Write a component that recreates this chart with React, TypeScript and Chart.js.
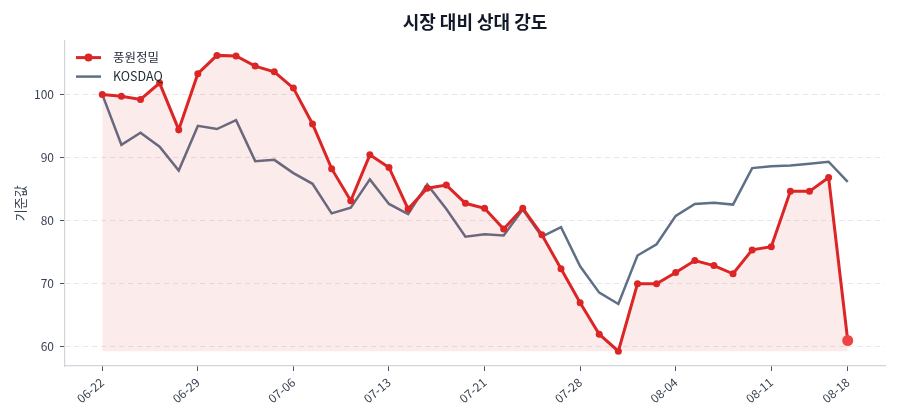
import React, { useEffect, useRef } from 'react';
import Chart from 'chart.js/auto';

const dates = [
  '06-22', '06-23', '06-24', '06-25', '06-26',
  '06-29', '06-30', '07-01', '07-02', '07-03',
  '07-06', '07-07', '07-08', '07-09', '07-10',
  '07-13', '07-14', '07-15', '07-16', '07-17',
  '07-21', '07-22', '07-23', '07-24', '07-27',
  '07-28', '07-29', '07-30', '07-31', '08-03',
  '08-04', '08-05', '08-06', '08-07', '08-10',
  '08-11', '08-12', '08-13', '08-14', '08-18',
];

const stockValues = [
  100.0, 99.7, 99.2, 101.8, 94.4, 103.3, 106.2, 106.1, 104.5, 103.6,
  101.0, 95.3, 88.2, 83.1, 90.4, 88.4, 81.8, 85.1, 85.6, 82.7,
  81.9, 78.6, 81.9, 77.7, 72.3, 66.9, 61.9, 59.2, 69.9, 69.9,
  71.7, 73.6, 72.8, 71.5, 75.3, 75.8, 84.6, 84.6, 86.8, 60.9,
];

const kosdaqValues = [
  100.0, 92.0, 93.9, 91.7, 87.9, 95.0, 94.5, 95.9, 89.4, 89.6,
  87.5, 85.8, 81.1, 82.0, 86.5, 82.6, 81.0, 85.7, 81.8, 77.4,
  77.8, 77.6, 81.7, 77.4, 78.9, 72.7, 68.5, 66.7, 74.4, 76.2,
  80.7, 82.6, 82.8, 82.5, 88.3, 88.6, 88.7, 89.0, 89.3, 86.1,
];

const tickIndexes = [0, 5, 10, 15, 20, 25, 30, 35, 39];

const FONT = '"Noto Sans CJK KR", "Noto Sans", sans-serif';
const RED = '#dc2626';
const SLATE = '#5f6f86';

// legend drawn inside the plot, top-left like the original
const insideLegend = {
  id: 'insideLegend',
  afterDraw(chart: any) {
    const { ctx, chartArea } = chart;
    const x = chartArea.left + 11;
    let y = chartArea.top + 17;
    ctx.save();
    ctx.font = `12.5px ${FONT}`;
    ctx.textBaseline = 'middle';
    chart.data.datasets.forEach((ds: any, i: number) => {
      ctx.strokeStyle = ds.borderColor;
      ctx.lineWidth = ds.borderWidth;
      ctx.beginPath();
      ctx.moveTo(x, y);
      ctx.lineTo(x + 25, y);
      ctx.stroke();
      if (i === 0) {
        ctx.fillStyle = ds.borderColor;
        ctx.beginPath();
        ctx.arc(x + 12.5, y, 4, 0, Math.PI * 2);
        ctx.fill();
      }
      ctx.fillStyle = '#1f2937';
      ctx.fillText(ds.label, x + 37, y);
      y += 19;
    });
    ctx.restore();
  },
};

export default function App() {
  const canvasRef = useRef<HTMLCanvasElement>(null);

  useEffect(() => {
    document.body.style.margin = '0';
    if (!canvasRef.current) return;
    const last = stockValues.length - 1;
    const fillBase = Math.min(...stockValues);

    const chart = new Chart(canvasRef.current, {
      type: 'line',
      data: {
        datasets: [
          {
            label: '풍원정밀',
            data: stockValues.map((v, i) => ({ x: i, y: v })),
            borderColor: RED,
            borderWidth: 3,
            backgroundColor: 'rgba(220, 38, 38, 0.09)',
            fill: { value: fillBase },
            pointRadius: (c: any) => (c.dataIndex === last ? 5.5 : 3.5),
            pointBackgroundColor: (c: any) => (c.dataIndex === last ? '#ef4444' : RED),
            pointBorderWidth: 0,
            tension: 0,
          },
          {
            label: 'KOSDAQ',
            data: kosdaqValues.map((v, i) => ({ x: i, y: v })),
            borderColor: SLATE,
            borderWidth: 2.5,
            pointRadius: 0,
            fill: false,
            tension: 0,
          },
        ],
      },
      options: {
        animation: false,
        responsive: true,
        maintainAspectRatio: false,
        layout: { padding: { left: 0, right: 15, top: 0, bottom: 0 } },
        scales: {
          x: {
            type: 'linear',
            min: -1.95,
            max: 40.95,
            afterBuildTicks: (scale: any) => {
              scale.ticks = tickIndexes.map((v) => ({ value: v }));
            },
            afterFit: (scale: any) => {
              scale.height = 54;
            },
            grid: {
              drawOnChartArea: false,
              tickColor: '#4b5563',
              tickLength: 5,
            },
            border: { color: '#d1d5db', width: 1.2 },
            ticks: {
              autoSkip: false,
              maxRotation: 40,
              minRotation: 40,
              padding: 4,
              color: '#374151',
              font: { family: FONT, size: 12 },
              callback: (value: any) => dates[value] ?? '',
            },
          },
          y: {
            min: 56.85,
            max: 108.55,
            afterFit: (scale: any) => {
              scale.width = 65;
            },
            title: {
              display: true,
              text: '기준값',
              color: '#374151',
              padding: { top: 12, bottom: 4 },
              font: { family: FONT, size: 13 },
            },
            grid: {
              color: '#e5e7eb',
              tickColor: '#4b5563',
              tickLength: 5,
            },
            border: { color: '#d1d5db', width: 1.2, dash: [5, 4] },
            ticks: {
              stepSize: 10,
              includeBounds: false,
              padding: 6,
              color: '#374151',
              font: { family: FONT, size: 12 },
            },
          },
        },
        plugins: {
          legend: { display: false },
          tooltip: { enabled: false },
          title: {
            display: true,
            text: '시장 대비 상대 강도',
            fullSize: false,
            color: '#111827',
            padding: { top: 11, bottom: 8 },
            font: { family: FONT, size: 18, weight: 'bold' },
          },
        },
      } as any,
      plugins: [insideLegend],
    });

    return () => {
      chart.destroy();
    };
  }, []);

  return (
    <div style={{ width: 900, height: 420, position: 'relative' }}>
      <canvas ref={canvasRef}></canvas>
    </div>
  );
}
